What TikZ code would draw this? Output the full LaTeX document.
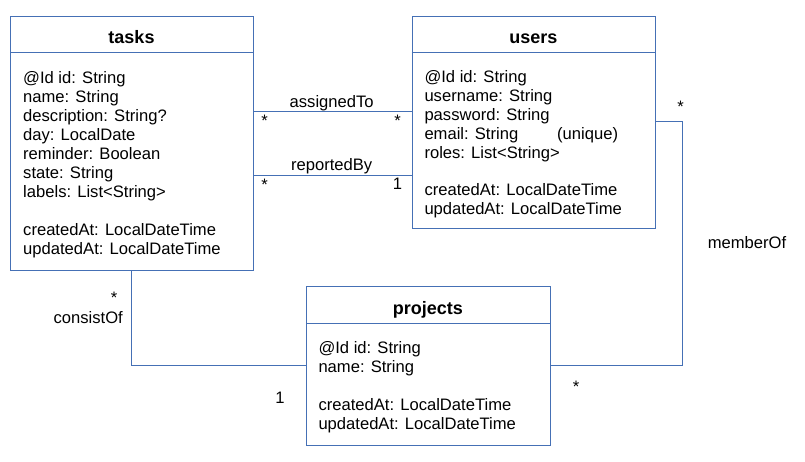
\documentclass[tikz,border=0pt]{standalone}
\usepackage{fontspec}
\setmainfont{Liberation Sans}
\definecolor{umlblue}{HTML}{4570B5}
\begin{document}
\begin{tikzpicture}[x=1pt,y=-1pt,
  box/.style={draw=umlblue,line width=1pt,fill=white,inner sep=0,anchor=north west},
  hdr/.style={draw=umlblue,line width=1pt},
  conn/.style={draw=umlblue,line width=1pt},
  ttl/.style={font=\fontsize{18}{21}\selectfont\bfseries,anchor=base,inner sep=0},
  attr/.style={font=\fontsize{16.6}{19}\selectfont,anchor=base west,inner sep=0},
  lbl/.style={font=\fontsize{16.6}{19}\selectfont,anchor=base,inner sep=0}]
\useasboundingbox (0,0) rectangle (805,462);
% boxes
\node[box,minimum width=243,minimum height=254] (tasks) at (10,16) {};
\node[box,minimum width=243.5,minimum height=212] (users) at (411.5,16) {};
\node[box,minimum width=243.5,minimum height=159] (projects) at (306,286) {};
\draw[hdr] (10,53) -- (253,53);
\draw[hdr] (411.5,53) -- (655,53);
\draw[hdr] (306,323) -- (549.5,323);
% titles
\node[ttl] (tasksT) at (131.5,44) {tasks};
\node[ttl] (usersT) at (533.3,44) {users};
\node[ttl] (projectsT) at (427.8,314) {projects};
% tasks attributes
\foreach \t [count=\i] in {@Id id: String,name: String,description: String?,day: LocalDate,reminder: Boolean,state: String,labels: List<String>}
  \node[attr] (ta\i) at (23,84+18.9*\i-18.9) {\t};
\node[attr] (ta8) at (23,235.2) {createdAt: LocalDateTime};
\node[attr] (ta9) at (23,254.1) {updatedAt: LocalDateTime};
% users attributes
\foreach \t [count=\i] in {@Id id: String,username: String,password: String,email: String,roles: List<String>}
  \node[attr] (ua\i) at (424.3,82.5+18.9*\i-18.9) {\t};
\node[attr] (uaU) at (557,139.2) {(unique)};
\node[attr] (ua6) at (424.3,195.9) {createdAt: LocalDateTime};
\node[attr] (ua7) at (424.3,214.8) {updatedAt: LocalDateTime};
% projects attributes
\node[attr] (pa1) at (318.3,353.5) {@Id id: String};
\node[attr] (pa2) at (318.3,372.4) {name: String};
\node[attr] (pa3) at (318.3,410.2) {createdAt: LocalDateTime};
\node[attr] (pa4) at (318.3,429.1) {updatedAt: LocalDateTime};
% connector points
\coordinate (mA) at (682,122);
\coordinate (mB) at (682,365);
\coordinate (cA) at (131,365);
\draw[conn] (tasks.east |- 0,112) -- (users.west |- 0,112);
\draw[conn] (tasks.east |- 0,176) -- (users.west |- 0,176);
\draw[conn] (users.east |- mA) -- (mA) -- (mB) -- (projects.east |- mB);
\draw[conn] (tasks.south -| cA) -- (cA) -- (projects.west |- cA);
% labels
\node[lbl] (l1) at (331.7,108) {assignedTo};
\node[lbl] (l2) at (331.7,171) {reportedBy};
\node[lbl] (s1) at (264.5,127) {*};
\node[lbl] (s2) at (397.5,127) {*};
\node[lbl] (s3) at (264.5,191) {*};
\node[lbl] (s4) at (397.5,190) {1};
\node[lbl] (s5) at (680.5,112.5) {*};
\node[lbl] (l3) at (747,248.3) {memberOf};
\node[lbl] (s6) at (576,392) {*};
\node[lbl] (s7) at (114,303) {*};
\node[attr,anchor=base east] (l4) at (123,323.3) {consistOf};
\node[lbl] (s8) at (280,403) {1};
\end{tikzpicture}
\end{document}
